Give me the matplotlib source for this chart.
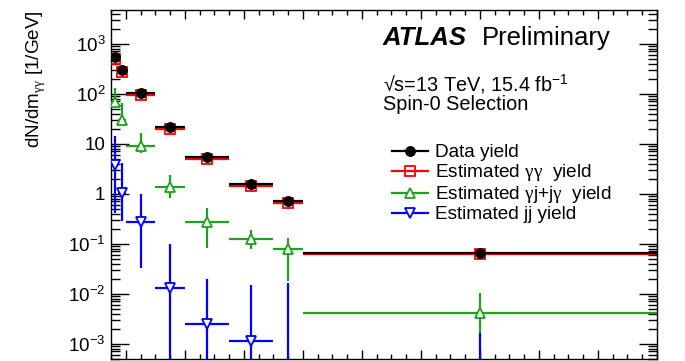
import matplotlib
matplotlib.use("Agg")
import matplotlib.pyplot as plt
import numpy as np
from matplotlib.ticker import FixedLocator, FuncFormatter, NullFormatter, MultipleLocator
from matplotlib.lines import Line2D

plt.rcParams['font.family'] = ['Liberation Sans', 'DejaVu Sans']
plt.rcParams['mathtext.fontset'] = 'custom'
plt.rcParams['mathtext.rm'] = 'Liberation Sans'
plt.rcParams['mathtext.it'] = 'Liberation Sans:italic'
plt.rcParams['mathtext.bf'] = 'Liberation Sans:bold'
plt.rcParams['mathtext.sf'] = 'Liberation Serif'

# m_gamma-gamma bin edges [GeV]
bin_edges = [150, 175, 200, 300, 400, 550, 700, 800, 2000]

# yields per GeV
data_yield = [550, 298, 102, 21.9, 5.3, 1.56, 0.714, 0.0645]
gg_yield = [490, 272, 94, 20.0, 4.94, 1.45, 0.645, 0.063]

gj_yield = [68, 30, 9.0, 1.38, 0.275, 0.124, 0.078, 0.0041]
gj_high = [129, 65, 16.6, 2.37, 0.51, 0.188, 0.128, 0.0102]
gj_low = [58, 26, 6.6, 0.82, 0.081, 0.077, 0.018, 0.0016]

jj_yield = [3.7, 1.05, 0.27, 0.0132, 0.00248, 0.00115, 1e-5, 1e-5]
jj_high = [14.2, 4.06, 1.0, 0.099, 0.0197, 0.0149, 0.0162, 0.0016]
jj_low = [0.41, 0.284, 0.032, 1e-6, 1e-6, 1e-6, 1e-6, 1e-6]

y_decades = [-3, -2, -1, 0, 1, 2, 3]

edges = np.array(bin_edges, dtype=float)
centers = 0.5 * (edges[:-1] + edges[1:])
half_w = 0.5 * (edges[1:] - edges[:-1])

fig = plt.figure(figsize=(6.85, 3.61), dpi=100)
ax = fig.add_axes([111/685, 2/361, 546/685, 349/361])
ax.set_yscale('log')
ax.set_xlim(150, 2000)
ax.set_ylim(4.94e-4, 4720)

lw = 1.6
GREEN = '#1fa01f'
BLUE = '#0000ff'
RED = '#ff0000'
GG = r'$\mathsf{\gamma\gamma}$'


def asym(vals, lo, hi):
    v = np.array(vals)
    return [v - np.array(lo), np.array(hi) - v]


ax.errorbar(centers, gg_yield, xerr=half_w, fmt='s', color=RED, mfc='none',
            mec=RED, ms=6.5, mew=1.3, elinewidth=lw, capsize=0, zorder=3)
ax.errorbar(centers, data_yield, xerr=half_w, fmt='o', color='black',
            ms=6.8, elinewidth=lw, capsize=0, zorder=4)
ax.errorbar(centers, gj_yield, xerr=half_w, yerr=asym(gj_yield, gj_low, gj_high),
            fmt='^', color=GREEN, mfc='white', mec=GREEN, ms=7.5, mew=1.3,
            elinewidth=lw, capsize=0, zorder=5)
ax.errorbar(centers, jj_yield, xerr=half_w, yerr=asym(jj_yield, jj_low, jj_high),
            fmt='v', color=BLUE, mfc='white', mec=BLUE, ms=7.5, mew=1.3,
            elinewidth=lw, capsize=0, zorder=6)

# axis ticks: inward on all four sides
ax.xaxis.set_major_locator(MultipleLocator(200))
ax.xaxis.set_minor_locator(MultipleLocator(50))
ax.yaxis.set_major_locator(FixedLocator([10.0 ** e for e in y_decades]))
minor_y = [m * 10.0 ** e for e in range(-4, 4) for m in range(2, 10)
           if 4.94e-4 < m * 10.0 ** e < 4720]
ax.yaxis.set_minor_locator(FixedLocator(minor_y))
ax.yaxis.set_minor_formatter(NullFormatter())


def ylab(v, pos):
    e = int(round(np.log10(v)))
    if e == 0:
        return '1'
    if e == 1:
        return '10'
    return r'$10^{%d}$' % e


ax.yaxis.set_major_formatter(FuncFormatter(ylab))
ax.tick_params(axis='both', which='both', direction='in', top=True, right=True,
               width=1.0, color='black')
ax.tick_params(axis='y', which='major', length=13, labelsize=13.5, pad=4)
ax.tick_params(axis='y', which='minor', length=6.5)
ax.tick_params(axis='x', which='major', length=6.5, labelbottom=False)
ax.tick_params(axis='x', which='minor', length=3.5)
for s in ax.spines.values():
    s.set_linewidth(1.0)

fig.text(36/685, 1 - 10/361, r'dN/dm$_{\mathsf{\gamma\gamma}}$ [1/GeV]', rotation=90,
         ha='center', va='top', fontsize=13.6)

fig.text(383/685, 1 - 45/361, 'ATLAS', fontsize=18.5, fontweight='bold',
         fontstyle='italic', ha='left', va='baseline')
fig.text(482/685, 1 - 45/361, 'Preliminary', fontsize=18.5,
         ha='left', va='baseline')
fig.text(383/685, 1 - 91/361, r'√s=13 TeV, 15.4 fb$^{\mathregular{-1}}$', fontsize=14.3,
         ha='left', va='baseline')
fig.text(383/685, 1 - 110/361, 'Spin-0 Selection', fontsize=14.3,
         ha='left', va='baseline')

handles = [
    Line2D([], [], color='black', marker='o', ms=6.8, lw=lw),
    Line2D([], [], color=RED, marker='s', mfc='none', ms=6.5, mew=1.3, lw=lw),
    Line2D([], [], color=GREEN, marker='^', mfc='white', ms=7.5, mew=1.3, lw=lw),
    Line2D([], [], color=BLUE, marker='v', mfc='white', ms=7.5, mew=1.3, lw=lw),
]
labels = ['Data yield', 'Estimated ' + GG + '  yield',
          r'Estimated $\mathsf{\gamma}$j+j$\mathsf{\gamma}$  yield',
          'Estimated jj yield']
leg = ax.legend(handles, labels, loc='upper left',
                bbox_to_anchor=((392 - 111) / 546, 1 - (144 - 10) / 349),
                frameon=False, fontsize=13.7, handlelength=1.9, handletextpad=0.38,
                labelspacing=0.05, borderpad=0.0, borderaxespad=0.0)

fig.savefig('out.png', dpi=100)
